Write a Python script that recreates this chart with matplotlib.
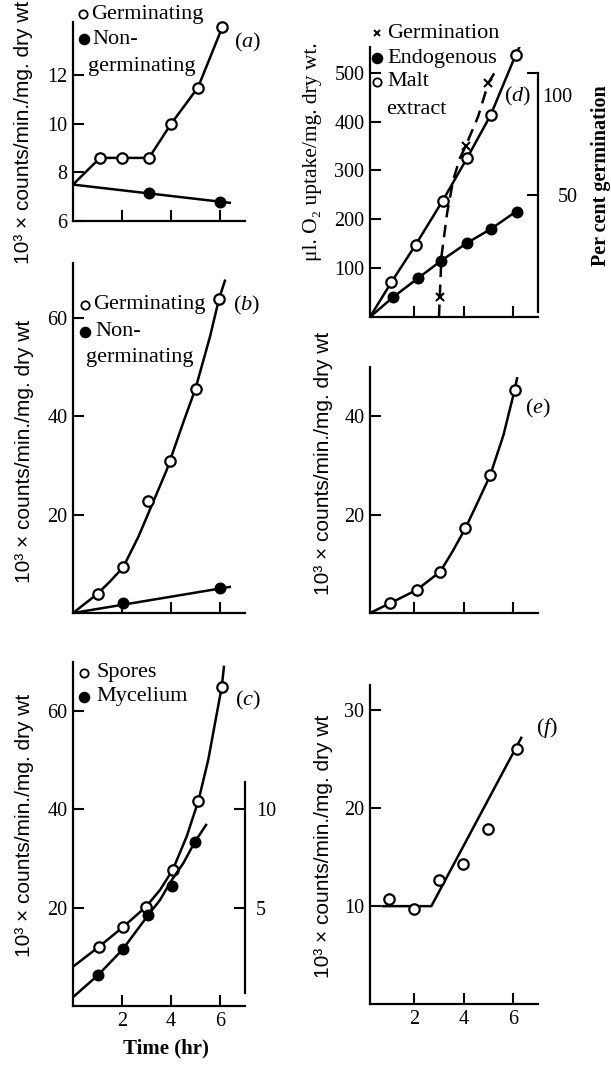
import matplotlib

matplotlib.use("Agg")
import matplotlib.pyplot as plt

W, H = 611, 1071
SERIF = ["Liberation Serif", "DejaVu Serif"]
SANS = ["Liberation Sans", "DejaVu Sans"]
COUNTS_LABEL = "10\u00b3 \u00d7 counts/min./mg. dry wt"

# (a) germinating / non-germinating spores
A_GERM_X = [1.1, 2.0, 3.1, 4.0, 5.1, 6.1]
A_GERM_Y = [8.6, 8.6, 8.6, 10.0, 11.5, 14.0]
A_GERM_CURVE_X = [0, 1.1, 2.0, 3.1, 4.0, 5.1, 6.1, 6.25]
A_GERM_CURVE_Y = [7.5, 8.6, 8.6, 8.6, 10.0, 11.5, 14.0, 14.4]
A_NON_X = [3.1, 6.0]
A_NON_Y = [7.15, 6.8]
A_NON_LINE_X = [0, 6.4]
A_NON_LINE_Y = [7.5, 6.75]

# (b)
B_GERM_X = [1.0, 2.05, 3.07, 3.96, 5.0, 5.96]
B_GERM_Y = [3.9, 9.3, 22.8, 30.9, 45.6, 63.8]
B_GERM_CURVE_X = [0, 1.0, 1.51, 2.05, 2.67, 3.25, 3.82, 4.5, 5.0, 5.59, 5.96, 6.2]
B_GERM_CURVE_Y = [0, 3.9, 6.4, 9.3, 15.5, 22.3, 29.0, 38.7, 45.6, 56.1, 63.8, 67.5]
B_NON_X = [2.04, 6.0]
B_NON_Y = [2.1, 5.0]
B_NON_LINE_X = [0, 6.4]
B_NON_LINE_Y = [0, 5.3]

# (c) spores (left scale) and mycelium (right scale)
C_SPORE_X = [1.07, 2.05, 2.98, 4.07, 5.12, 6.07]
C_SPORE_Y = [12.1, 16.1, 20.2, 27.7, 41.8, 64.9]
C_SPORE_CURVE_X = [0, 1.07, 2.05, 2.98, 3.55, 4.07, 4.64, 5.12, 5.52, 5.82, 6.07, 6.16]
C_SPORE_CURVE_Y = [8.0, 12.1, 16.1, 20.2, 23.6, 27.7, 34.5, 41.8, 50.1, 58.2, 64.9, 69.0]
C_MYC_X = [1.03, 2.03, 3.07, 4.03, 4.98]
C_MYC_Y = [1.58, 2.88, 4.63, 6.12, 8.36]
C_MYC_CURVE_X = [0, 1.03, 2.03, 3.07, 3.55, 4.03, 4.5, 4.98, 5.43]
C_MYC_CURVE_Y = [0.45, 1.58, 2.88, 4.63, 5.39, 6.41, 7.26, 8.36, 9.21]

# (d) oxygen uptake and per cent germination
D_ENDO_X = [1.14, 2.15, 3.1, 4.12, 5.1, 6.18]
D_ENDO_Y = [40.7, 79.5, 115.5, 151, 180, 215.6]
D_ENDO_LINE_X = [0.2, 1.14, 2.15, 3.1, 4.12, 5.1, 6.25]
D_ENDO_LINE_Y = [0, 40.7, 79.5, 115.5, 151, 180, 220]
D_MALT_X = [1.07, 2.05, 3.15, 4.15, 5.1, 6.11]
D_MALT_Y = [71.4, 147.6, 238, 326, 413.5, 536]
D_MALT_LINE_X = [0.2, 1.07, 2.05, 3.15, 4.15, 5.1, 6.11, 6.36]
D_MALT_LINE_Y = [0, 71.4, 147.6, 238, 326, 413.5, 536, 563]
D_GERM_X = [3.04, 4.09, 5.0]
D_GERM_Y = [8.2, 70.3, 95.9]
D_GERM_CURVE_X = [3.0, 3.1, 3.33, 3.58, 3.85, 4.09, 4.59, 5.0, 5.3]
D_GERM_CURVE_Y = [0, 24.8, 42.6, 56.3, 65.2, 70.3, 82.3, 95.9, 101]

# (e)
E_X = [1.02, 2.1, 3.05, 4.07, 5.08, 6.07]
E_Y = [2.0, 4.7, 8.4, 17.2, 28.0, 45.3]
E_CURVE_X = [0.2, 1.02, 2.1, 3.05, 3.55, 4.07, 4.58, 5.08, 5.62, 6.07, 6.17]
E_CURVE_Y = [0, 2.0, 4.7, 8.4, 12.5, 17.2, 22.6, 28.0, 36.2, 45.3, 47.7]

# (f)
F_X = [0.98, 2.0, 3.0, 3.99, 5.0, 6.15]
F_Y = [10.7, 9.7, 12.7, 14.3, 17.9, 26.1]
F_LINE_X = [0.71, 2.69, 6.34]
F_LINE_Y = [10, 10, 27.2]

TIME_TICKS = [2, 4, 6]

plt.rcParams["font.family"] = SERIF
plt.rcParams["mathtext.fontset"] = "custom"
plt.rcParams["mathtext.rm"] = "Liberation Serif"
plt.rcParams["mathtext.it"] = "Liberation Serif:italic"

fig = plt.figure(figsize=(W / 100, H / 100), dpi=100)


def fx(x):
    return x / W


def fy(y):
    return 1 - y / H


def panel(left, top, right, bottom, xlim, ylim, yticks, xlabels=False):
    ax = fig.add_axes([fx(left), fy(bottom), (right - left) / W, (bottom - top) / H])
    ax.set_xlim(*xlim)
    ax.set_ylim(*ylim)
    for side in ("top", "right"):
        ax.spines[side].set_visible(False)
    for side in ("left", "bottom"):
        ax.spines[side].set_linewidth(1.6)
    ax.set_xticks(TIME_TICKS)
    ax.set_yticks(yticks)
    if not xlabels:
        ax.set_xticklabels([])
    ax.tick_params(direction="in", length=8, width=1.5, labelsize=14.5, pad=4)
    return ax


def right_scale(ax, ylim, bounds, ticks, pad):
    tw = ax.twinx()
    tw.set_ylim(*ylim)
    for side in ("top", "left", "bottom"):
        tw.spines[side].set_visible(False)
    tw.spines["right"].set_linewidth(1.6)
    tw.spines["right"].set_bounds(*bounds)
    tw.set_yticks(ticks)
    tw.tick_params(direction="in", length=8, width=1.5, labelsize=14.5, pad=pad)
    return tw


def curve(ax, xs, ys, **kw):
    ax.plot(xs, ys, color="black", lw=1.8, solid_joinstyle="round", **kw)


def points(ax, xs, ys, filled):
    ax.plot(xs, ys, "o", ms=7.5 if not filled else 7, mew=1.6, mec="black",
            mfc="black" if filled else "white", zorder=5, clip_on=False)


def key(x, y, marker, text_x, text, filled=False):
    if marker == "x":
        fig.lines.append(plt.Line2D([fx(x)], [fy(y)], marker="x", ms=5, mew=1.4,
                                    color="black", transform=fig.transFigure))
    else:
        fig.lines.append(plt.Line2D([fx(x)], [fy(y)], marker="o", ms=6 if not filled else 7,
                                    mew=1.3, mec="black", mfc="black" if filled else "white",
                                    transform=fig.transFigure))
    if text:
        fig.text(fx(text_x), fy(y), text, ha="left", va="center", fontsize=16)


def label(x, y, text, family=SANS, size=15, rotation=90, weight="normal"):
    fig.text(fx(x), fy(y), text, ha="center", va="center", rotation=rotation,
             family=family, fontsize=size, fontweight=weight)


# (a)
ax = panel(73, 22, 245, 221, (0, 7.02), (6, 14.2), [6, 8, 10, 12])
curve(ax, A_GERM_CURVE_X, A_GERM_CURVE_Y)
curve(ax, A_NON_LINE_X, A_NON_LINE_Y)
points(ax, A_GERM_X, A_GERM_Y, False)
points(ax, A_NON_X, A_NON_Y, True)
key(83, 14, "o", 91, "Germinating")
key(84, 39, "o", 92, "Non-", filled=True)
fig.text(fx(88), fy(67), "germinating", ha="left", va="center", fontsize=16)
fig.text(fx(248), fy(42), "($a$)", ha="center", va="center", fontsize=16)
label(24, 132, COUNTS_LABEL)

# (b)
ax = panel(73, 263, 245, 613, (0, 7.02), (0, 71.1), [20, 40, 60])
curve(ax, B_GERM_CURVE_X, B_GERM_CURVE_Y)
curve(ax, B_NON_LINE_X, B_NON_LINE_Y)
points(ax, B_GERM_X, B_GERM_Y, False)
points(ax, B_NON_X, B_NON_Y, True)
key(85, 305, "o", 93, "Germinating")
key(85, 332, "o", 95, "Non-", filled=True)
fig.text(fx(86), fy(358), "germinating", ha="left", va="center", fontsize=16)
fig.text(fx(247), fy(305), "($b$)", ha="center", va="center", fontsize=16)
label(25, 451, COUNTS_LABEL)

# (c)
ax = panel(73, 662, 245, 1006, (0, 7.02), (0, 70), [20, 40, 60], xlabels=True)
curve(ax, C_SPORE_CURVE_X, C_SPORE_CURVE_Y)
points(ax, C_SPORE_X, C_SPORE_Y, False)
tw = right_scale(ax, (0, 17.5), (0.66, 11.4), [5, 10], 8)
curve(tw, C_MYC_CURVE_X, C_MYC_CURVE_Y)
points(tw, C_MYC_X, C_MYC_Y, True)
key(84, 673, "o", 96, "Spores")
key(84, 697, "o", 96, "Mycelium", filled=True)
fig.text(fx(248), fy(700), "($c$)", ha="center", va="center", fontsize=16)
label(25, 825, COUNTS_LABEL)
label(166, 1048, "Time (hr)", family=SERIF, size=15, rotation=0, weight="bold")

# (d)
ax = panel(370, 47, 538, 317, (0.2, 7.02), (0, 552.6), [100, 200, 300, 400, 500])
curve(ax, D_MALT_LINE_X, D_MALT_LINE_Y)
curve(ax, D_ENDO_LINE_X, D_ENDO_LINE_Y)
points(ax, D_MALT_X, D_MALT_Y, False)
points(ax, D_ENDO_X, D_ENDO_Y, True)
tw = right_scale(ax, (0, 110.8), (2, 100), [50, 100], 14)
tw.set_yticklabels(["50", ""])
tw.plot(D_GERM_CURVE_X, D_GERM_CURVE_Y, color="black", lw=1.8, ls=(0, (5, 3)))
tw.plot(D_GERM_X, D_GERM_Y, "x", color="black", ms=6, mew=1.5)
key(377, 33, "x", 387, "Germination")
key(377, 58, "o", 387, "Endogenous", filled=True)
key(377, 82, "o", 387, "Malt")
fig.text(fx(386), fy(110), "extract", ha="left", va="center", fontsize=16)
fig.text(fx(518), fy(96), "($d$)", ha="center", va="center", fontsize=16)
fig.text(fx(557), fy(97), "100", ha="center", va="center", fontsize=14.5)
label(313, 152, "\u03bcl. O\u2082 uptake/mg. dry wt.", family=SERIF, size=15.5)
label(601, 176, "Per cent germination", family=SERIF, size=14.5, weight="bold")

# (e)
ax = panel(370, 367, 538, 613, (0.2, 7.02), (0, 50), [20, 40])
curve(ax, E_CURVE_X, E_CURVE_Y)
points(ax, E_X, E_Y, False)
fig.text(fx(538), fy(408), "($e$)", ha="center", va="center", fontsize=16)
label(323, 463, COUNTS_LABEL)

# (f)
ax = panel(370, 685, 538, 1004, (0.2, 7.02), (0, 32.6), [10, 20, 30], xlabels=True)
curve(ax, F_LINE_X, F_LINE_Y)
points(ax, F_X, F_Y, False)
fig.text(fx(547), fy(728), "($f$)", ha="center", va="center", fontsize=16)
label(323, 846, COUNTS_LABEL)

fig.savefig("out.png", dpi=100)
